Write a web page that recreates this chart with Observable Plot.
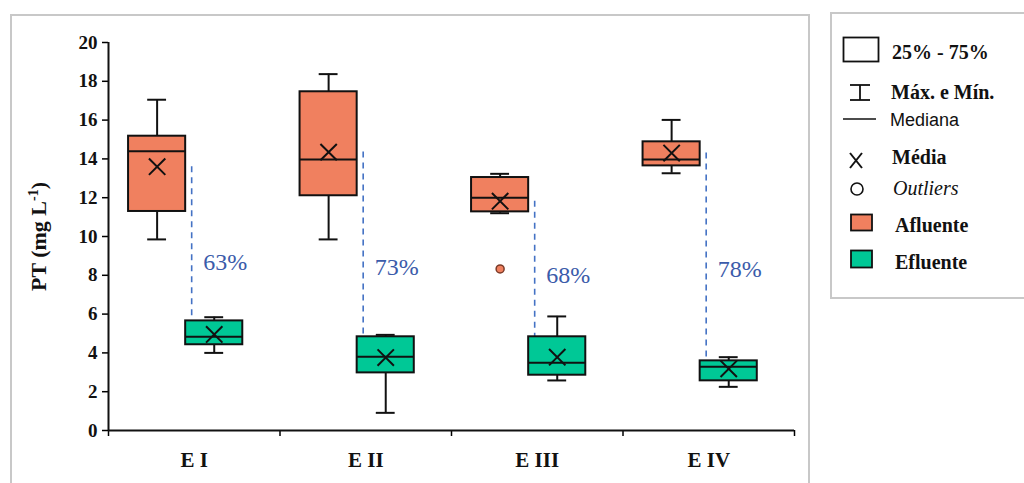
<!DOCTYPE html>
<html>
<head>
<meta charset="utf-8">
<script src="https://cdn.jsdelivr.net/npm/d3@7"></script>
<script src="https://cdn.jsdelivr.net/npm/@observablehq/plot@0.6"></script>
</head>
<body style="margin:0;background:#fff;width:1024px;height:483px;overflow:hidden">
<div id="wrap" style="position:relative;width:1024px;height:483px">
  <div style="position:absolute;left:10px;top:14px;width:800px;height:490px;border:2px solid #c8c8c8;box-sizing:border-box"></div>
  <div id="chart" style="position:absolute;left:0;top:0"></div>
  <div id="legend" style="position:absolute;left:0;top:0"></div>
  <div class="reg" style="position:absolute;left:200px;top:251px;font-family:'Liberation Serif';font-size:24px;color:#3b5baa;white-space:nowrap" id="p0">63%</div>
  <div class="reg" style="position:absolute;left:200px;top:251px;font-family:'Liberation Serif';font-size:24px;color:#3b5baa;white-space:nowrap" id="p1">73%</div>
  <div class="reg" style="position:absolute;left:200px;top:251px;font-family:'Liberation Serif';font-size:24px;color:#3b5baa;white-space:nowrap" id="p2">68%</div>
  <div class="reg" style="position:absolute;left:200px;top:251px;font-family:'Liberation Serif';font-size:24px;color:#3b5baa;white-space:nowrap" id="p3">78%</div>
  <div class="reg" style="position:absolute;left:893px;top:177px;font-family:'Liberation Serif';font-size:20px;font-style:italic;color:#111;white-space:nowrap">Outliers</div>
</div>
<script>
// make sure the regular / italic serif faces are ready
if (document.fonts && document.fonts.load) {
  Promise.all([
    document.fonts.load("24px 'Liberation Serif'"),
    document.fonts.load("italic 20px 'Liberation Serif'")
  ]).then(() => {
    document.querySelectorAll(".reg").forEach(el => { el.style.fontFamily = "'Liberation Serif', serif"; });
  }).catch(() => {});
}

// ---- data ----
const categories = ["E I", "E II", "E III", "E IV"];
const aflMin  = [9.85, 9.85, 11.2, 13.26];
const aflQ1   = [11.29, 12.1, 11.27, 13.64];
const aflMed  = [14.4, 13.97, 12.0, 13.97];
const aflQ3   = [15.17, 17.46, 13.04, 14.88];
const aflMax  = [17.05, 18.37, 13.23, 16.01];
const aflMean = [13.6, 14.35, 11.82, 14.3];
const eflMin  = [4.0, 0.91, 2.58, 2.25];
const eflQ1   = [4.42, 2.97, 2.85, 2.56];
const eflMed  = [4.83, 3.8, 3.49, 3.28];
const eflQ3   = [5.65, 4.83, 4.83, 3.59];
const eflMax  = [5.84, 4.93, 5.88, 3.78];
const eflMean = [4.95, 3.76, 3.78, 3.18];
const outlierCats   = ["E III"];
const outlierValues = [8.33];
const removal = ["63%", "73%", "68%", "78%"];
const removalLabelY = [8.6, 8.35, 7.95, 8.25];
const yTicks = [0, 2, 4, 6, 8, 10, 12, 14, 16, 18, 20];
const yTitle = "PT (mg L-1)";

// ---- styles ----
const AFL = "#f0805f", EFL = "#00c896", BLUE = "#4472c4";
const SERIF = "'Liberation Serif', 'Times New Roman', serif";

// ---- build tables ----
const PAIR = 0.45, W = 0.333, CAP = 0.055;
const boxes = categories.flatMap((cat, i) => [
  {cat, i, g: "Afluente", x1: i + PAIR - W, x2: i + PAIR, min: aflMin[i], q1: aflQ1[i], med: aflMed[i], q3: aflQ3[i], max: aflMax[i], mean: aflMean[i]},
  {cat, i, g: "Efluente", x1: i + PAIR, x2: i + PAIR + W, min: eflMin[i], q1: eflQ1[i], med: eflMed[i], q3: eflQ3[i], max: eflMax[i], mean: eflMean[i]}
]);
boxes.forEach(b => b.xc = (b.x1 + b.x2) / 2);
const outliers = outlierCats.map((c, k) => {
  const b = boxes.find(d => d.cat === c && d.g === "Afluente");
  return {x: b.xc, y: outlierValues[k]};
});
const links = categories.map((cat, i) => ({x: i + PAIR + 0.035, y1: aflMean[i], y2: eflMean[i], lx: i + PAIR + 0.105, ly: removalLabelY[i], label: removal[i]}));

const plot = Plot.plot({
  width: 812, height: 483,
  marginLeft: 108, marginRight: 18, marginTop: 42, marginBottom: 53,
  x: {domain: [0, 4], axis: null},
  y: {domain: [0, 20], axis: null},
  style: {background: "transparent", fontFamily: SERIF, color: "#000", overflow: "visible"},
  marks: [
    Plot.axisY({ticks: yTicks, tickSize: 6, tickPadding: 5, label: null, fontSize: 19, fontWeight: "bold", strokeWidth: 1.5, fill: "#111"}),
    Plot.axisX({ticks: [0, 1, 2, 3, 4], tickSize: 6, tickFormat: () => "", label: null, strokeWidth: 1.5}),
    Plot.axisX({ticks: [0.5, 1.5, 2.5, 3.5], tickSize: 0, tickPadding: 22, tickFormat: d => categories[Math.floor(d)], label: null, fontSize: 21, fontWeight: "bold", fill: "#111"}),
    Plot.ruleX([0], {y1: 0, y2: 20, stroke: "#111", strokeWidth: 2}),
    Plot.ruleY([0], {x1: 0, x2: 4, stroke: "#111", strokeWidth: 2}),
    Plot.text([yTitle], {frameAnchor: "left", dx: -70, rotate: -90, fontSize: 22, fontWeight: "bold", fill: "#111", textAnchor: "middle", className: "ytitle"}),
    Plot.ruleX(links, {x: "x", y1: "y1", y2: "y2", stroke: BLUE, strokeWidth: 1.6, strokeDasharray: "6,5"}),
    Plot.ruleX(boxes, {x: "xc", y1: "q3", y2: "max", stroke: "#111", strokeWidth: 2}),
    Plot.ruleX(boxes, {x: "xc", y1: "min", y2: "q1", stroke: "#111", strokeWidth: 2}),
    Plot.ruleY(boxes, {y: "max", x1: d => d.xc - CAP, x2: d => d.xc + CAP, stroke: "#111", strokeWidth: 2}),
    Plot.ruleY(boxes, {y: "min", x1: d => d.xc - CAP, x2: d => d.xc + CAP, stroke: "#111", strokeWidth: 2}),
    Plot.rect(boxes, {x1: "x1", x2: "x2", y1: "q1", y2: "q3", fill: d => d.g === "Afluente" ? AFL : EFL, stroke: "#111", strokeWidth: 2}),
    Plot.ruleY(boxes, {y: "med", x1: "x1", x2: "x2", stroke: "#111", strokeWidth: 2}),
    Plot.dot(boxes, {x: "xc", y: "mean", symbol: "times", r: 7.5, stroke: "#111", strokeWidth: 2}),
    Plot.dot(outliers, {x: "x", y: "y", r: 4, fill: AFL, stroke: "#7a3a28", strokeWidth: 1.5})
  ]
});
document.getElementById("chart").appendChild(plot);

// removal labels placed through Plot's scales
const sx = plot.scale("x"), sy = plot.scale("y");
links.forEach((l, k) => {
  const d = document.getElementById("p" + k);
  d.textContent = l.label;
  d.style.left = sx.apply(l.lx) + "px";
  d.style.top = (sy.apply(l.ly) - 14) + "px";
});

// superscript in the y title
const yt = plot.querySelector(".ytitle text");
if (yt) {
  yt.textContent = "";
  const parts = [["PT (mg L", 0, null], ["-1", -8, 14], [")", 8, null]];
  for (const [t, dy, fs] of parts) {
    const ts = document.createElementNS("http://www.w3.org/2000/svg", "tspan");
    ts.textContent = t;
    if (dy) ts.setAttribute("dy", dy);
    if (fs) ts.setAttribute("font-size", fs);
    yt.appendChild(ts);
  }
}

// ---- legend ----
const ns = "http://www.w3.org/2000/svg";
const legDiv = document.getElementById("legend");
const leg = document.createElementNS(ns, "svg");
leg.setAttribute("width", 1024); leg.setAttribute("height", 483);
leg.style.position = "absolute"; leg.style.left = "0"; leg.style.top = "0";
leg.innerHTML = `
  <rect x="831" y="13" width="200" height="285" fill="none" stroke="#c8c8c8" stroke-width="2"/>
  <rect x="843.5" y="37.5" width="35" height="24" fill="#fff" stroke="#111" stroke-width="1.8"/>
  <g stroke="#111" stroke-width="1.8"><line x1="850" x2="870" y1="85" y2="85"/><line x1="860" x2="860" y1="85" y2="100"/><line x1="850" x2="870" y1="100" y2="100"/></g>
  <line x1="843" x2="876" y1="119" y2="119" stroke="#111" stroke-width="1.6"/>
  <g stroke="#111" stroke-width="2"><line x1="850" x2="862" y1="153" y2="168"/><line x1="862" x2="850" y1="153" y2="168"/></g>
  <circle cx="857" cy="189" r="6" fill="#fff" stroke="#111" stroke-width="1.6"/>
  <rect x="851" y="214.5" width="21" height="16" fill="${AFL}" stroke="#111" stroke-width="1.8"/>
  <rect x="851" y="250.5" width="21" height="17" fill="${EFL}" stroke="#111" stroke-width="1.8"/>`;
legDiv.appendChild(leg);
const legItems = [
  {t: "25% - 75%", x: 892, y: 52, css: "font-family:'Liberation Serif';font-weight:bold;font-size:20px"},
  {t: "Máx. e Mín.", x: 891, y: 92, css: "font-family:'Liberation Serif';font-weight:bold;font-size:20px"},
  {t: "Mediana", x: 890, y: 120, css: "font-family:'Liberation Sans';font-size:18px"},
  {t: "Média", x: 892, y: 157, css: "font-family:'Liberation Serif';font-weight:bold;font-size:20px"},
  {t: "Afluente", x: 895, y: 225, css: "font-family:'Liberation Serif';font-weight:bold;font-size:20px"},
  {t: "Efluente", x: 895, y: 262, css: "font-family:'Liberation Serif';font-weight:bold;font-size:20px"}
];
for (const it of legItems) {
  const d = document.createElement("div");
  d.textContent = it.t;
  d.style.cssText = `position:absolute;white-space:nowrap;line-height:1;left:${it.x}px;top:${it.y}px;transform:translateY(-50%);color:#111;${it.css}`;
  legDiv.appendChild(d);
}
</script>
</body>
</html>
